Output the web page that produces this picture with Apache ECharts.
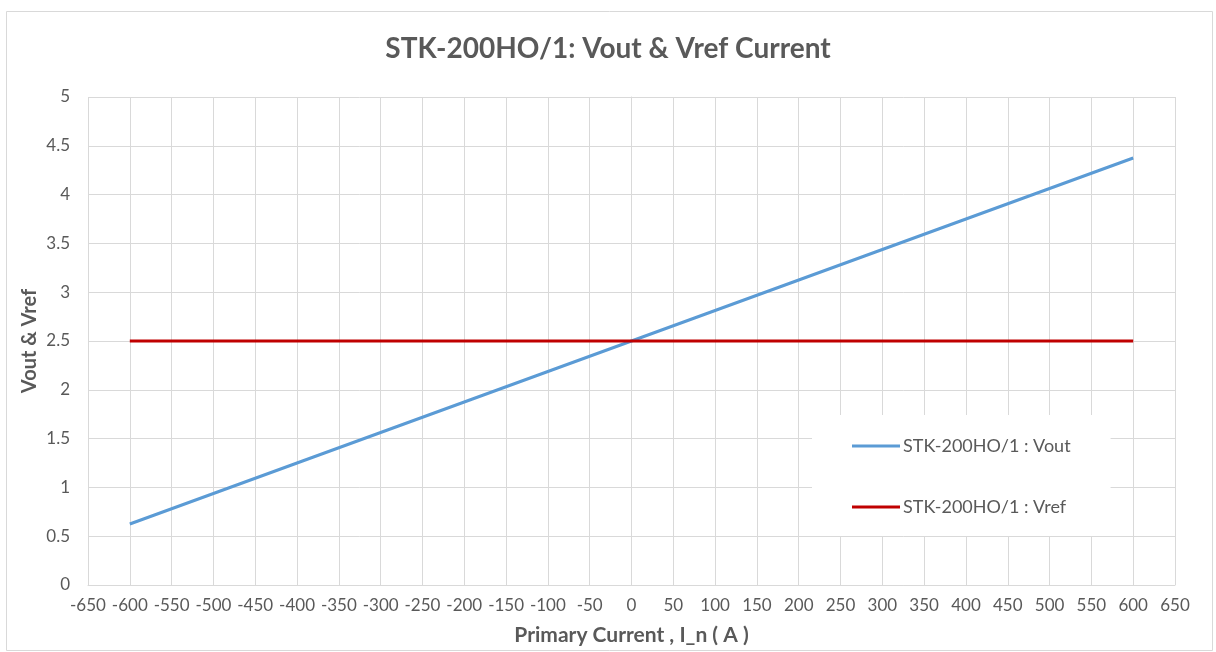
<!DOCTYPE html>
<html><head><meta charset="utf-8">
<script src="https://cdn.jsdelivr.net/npm/echarts@6/dist/echarts.min.js"></script>
<style>html,body{margin:0;padding:0;background:#fff}#c{width:1216px;height:652px}</style>
</head><body><div id="c"></div>
<script>
const currents = [-600, -500, -400, -300, -200, -100, 0, 100, 200, 300, 400, 500, 600];
const vout = [0.625, 0.9375, 1.25, 1.5625, 1.875, 2.1875, 2.5, 2.8125, 3.125, 3.4375, 3.75, 4.0625, 4.375];
const vref = [2.5, 2.5, 2.5, 2.5, 2.5, 2.5, 2.5, 2.5, 2.5, 2.5, 2.5, 2.5, 2.5];
const seriesNames = ['STK-200HO/1 : Vout', 'STK-200HO/1 : Vref'];
const titleText = 'STK-200HO/1: Vout & Vref Current';
const xName = 'Primary Current , I_n ( A )';
const yName = 'Vout & Vref';

const FONT = 'Lato, "Open Sans", sans-serif';
const chart = echarts.init(document.getElementById('c'), null, {renderer: 'canvas'});
const pair = (xs, ys) => xs.map((x, i) => [x, ys[i]]);
chart.setOption({
  animation: false,
  backgroundColor: '#fff',
  textStyle: {fontFamily: FONT},
  graphic: [{type: 'rect', left: 4, top: 9, shape: {width: 1206, height: 639}, style: {fill: 'none', stroke: '#d9d9d9', lineWidth: 1}, z: -1}],
  title: {text: titleText, left: 'center', top: 30, textStyle: {fontFamily: FONT, fontSize: 28, fontWeight: 'bold', color: '#595959'}},
  grid: {left: 88, right: 41, top: 97, bottom: 67},
  legend: {
    orient: 'vertical', left: 812, top: 415,
    backgroundColor: '#fff', padding: [22, 40, 20, 40], itemGap: 43,
    itemWidth: 48, itemHeight: 3, icon: 'rect',
    textStyle: {fontFamily: FONT, fontSize: 18, color: '#595959', padding: [0, 0, 0, -2]},
    data: seriesNames
  },
  xAxis: {
    type: 'value', min: -650, max: 650, interval: 50,
    name: xName, nameLocation: 'middle', nameGap: 40,
    nameTextStyle: {fontFamily: FONT, fontSize: 21, fontWeight: 'bold', color: '#595959'},
    axisLine: {lineStyle: {color: '#d9d9d9', width: 1}},
    axisTick: {show: false},
    axisLabel: {fontFamily: FONT, fontSize: 17, color: '#595959', margin: 12},
    splitLine: {show: true, lineStyle: {color: '#d9d9d9', width: 1}}
  },
  yAxis: {
    type: 'value', min: 0, max: 5, interval: 0.5,
    name: yName, nameLocation: 'middle', nameGap: 48, nameRotate: 90, nameMoveOverlap: false,
    nameTextStyle: {fontFamily: FONT, fontSize: 20, fontWeight: 'bold', color: '#595959'},
    axisLine: {show: true, lineStyle: {color: '#d9d9d9', width: 1}},
    axisTick: {show: false},
    axisLabel: {fontFamily: FONT, fontSize: 17, color: '#595959', margin: 18},
    splitLine: {show: true, lineStyle: {color: '#d9d9d9', width: 1}}
  },
  series: [
    {name: seriesNames[0], type: 'line', data: pair(currents, vout), symbol: 'none', lineStyle: {color: '#5b9bd5', width: 3}, itemStyle: {color: '#5b9bd5'}},
    {name: seriesNames[1], type: 'line', data: pair(currents, vref), symbol: 'none', lineStyle: {color: '#c00000', width: 3}, itemStyle: {color: '#c00000'}}
  ]
});
</script></body></html>
